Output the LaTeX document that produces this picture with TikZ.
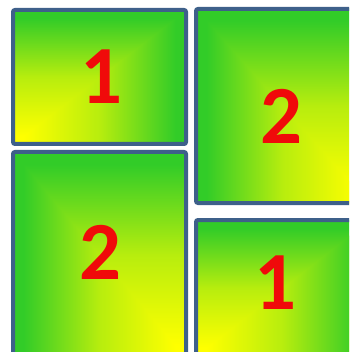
\documentclass[tikz,border=0pt]{standalone}
\usepackage{fontspec}
\setmainfont{Carlito}
\usepackage{xcolor}
\definecolor{vert}{RGB}{50,204,40}
\definecolor{jaune}{RGB}{255,255,0}
\definecolor{bordure}{RGB}{62,96,138}
\definecolor{rouge}{RGB}{240,10,10}

% Dégradés jaune -> vert
\pgfdeclareverticalshading{degradeV}{100bp}{color(0bp)=(jaune); color(28bp)=(jaune); color(50bp)=(vert!35!jaune); color(72bp)=(vert); color(100bp)=(vert)}
\pgfdeclarehorizontalshading{degradeD}{100bp}{color(0bp)=(jaune); color(28bp)=(jaune); color(50bp)=(vert!35!jaune); color(72bp)=(vert); color(100bp)=(vert)}
\pgfdeclarehorizontalshading{degradeG}{100bp}{color(0bp)=(vert); color(28bp)=(vert); color(50bp)=(vert!35!jaune); color(72bp)=(jaune); color(100bp)=(jaune)}

\tikzset{
  boite/.style={draw=bordure, line width=3pt, rounded corners=1.5pt},
  chiffre/.style={text=rouge, font=\bfseries\fontsize{62}{62}\selectfont, inner sep=0pt}
}

% Case en dégradé "depuis le coin" : #1 coin jaune, #2 coin opposé,
% #3 dégradé horizontal (degradeD ou degradeG)
\newcommand{\casecoin}[3]{%
  \shade[shading=degradeV] (#1) rectangle (#2);
  \begin{scope}
    \clip (#1) -- (#2) -- (#2 |- #1) -- cycle;
    \shade[shading=#3] (#1) rectangle (#2);
  \end{scope}
  \draw[boite] (#1) rectangle (#2);
}

\begin{document}
\begin{tikzpicture}[x=0.75pt, y=-0.75pt]

    % Cadre de l'image
    \useasboundingbox (0,0) rectangle (349,352);
    \clip (0,0) rectangle (349,352);

    % Coins des quatre cases (coin jaune, coin opposé)
    \coordinate (A1) at (13,144);   % Haut gauche, case 1
    \coordinate (A2) at (186,10);
    \coordinate (B1) at (369,203);  % Haut droite, case 2
    \coordinate (B2) at (196,9);
    \coordinate (C1) at (186,358);  % Bas gauche, case 2
    \coordinate (C2) at (13,152);
    \coordinate (D1) at (196,356);  % Bas droite, case 1
    \coordinate (D2) at (369,220);

    % Cases en dégradé
    \casecoin{A1}{A2}{degradeD}
    \casecoin{B1}{B2}{degradeG}
    \casecoin{C1}{C2}{degradeG}
    \casecoin{D1}{D2}{degradeD}

    % Numéros
    \node[chiffre] (n1) at (101,77) {1};
    \node[chiffre] (n2) at (281,116) {2};
    \node[chiffre] (n3) at (100,252) {2};
    \node[chiffre] (n4) at (275,283) {1};

\end{tikzpicture}
\end{document}
